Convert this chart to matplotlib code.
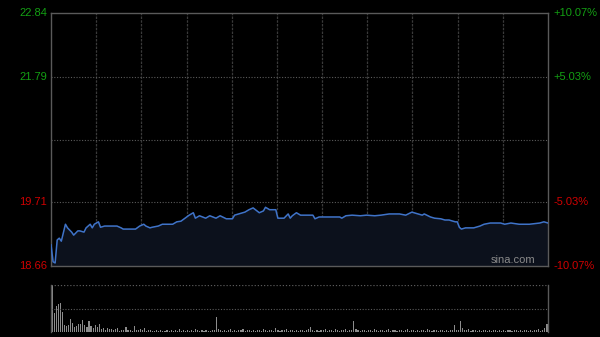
import matplotlib.pyplot as plt

# Intraday price (minute index, price)
minutes = [0, 1, 2, 3, 4, 5, 7, 8, 10, 11, 13, 14, 16, 17, 19, 20, 21, 23, 24, 26,
           32, 34, 35, 41, 43, 45, 46, 48, 49, 52, 54, 59, 61, 63, 65, 67, 69, 70, 72, 75,
           77, 80, 82, 85, 88, 89, 94, 96, 98, 101, 103, 104, 106, 109, 110, 113, 115, 116, 117, 119,
           121, 127, 128, 130, 140, 141, 143, 146, 150, 153, 157, 160, 164, 169, 172, 175, 178, 180, 181, 184,
           186, 189, 191, 193, 196, 197, 198, 199, 201, 205, 208, 210, 213, 218, 220, 223, 227, 232, 237, 239,
           241]
prices = [19.01, 18.73, 18.71, 19.09, 19.12, 19.07, 19.35, 19.29, 19.22, 19.17, 19.24, 19.24, 19.22, 19.29, 19.35, 19.29, 19.35, 19.39, 19.30, 19.32,
          19.32, 19.29, 19.27, 19.27, 19.32, 19.35, 19.32, 19.29, 19.30, 19.32, 19.35, 19.35, 19.39, 19.40, 19.45, 19.50, 19.54, 19.45, 19.49, 19.45,
          19.49, 19.45, 19.49, 19.44, 19.44, 19.50, 19.55, 19.59, 19.62, 19.54, 19.57, 19.63, 19.59, 19.59, 19.45, 19.45, 19.52, 19.45, 19.49, 19.54,
          19.50, 19.50, 19.44, 19.47, 19.47, 19.45, 19.49, 19.50, 19.49, 19.50, 19.49, 19.50, 19.52, 19.52, 19.50, 19.55, 19.52, 19.50, 19.52, 19.47,
          19.45, 19.44, 19.42, 19.42, 19.39, 19.39, 19.30, 19.27, 19.29, 19.29, 19.32, 19.35, 19.37, 19.37, 19.35, 19.37, 19.35, 19.35, 19.37, 19.39,
          19.37]

# Volume per minute (relative)
volume = [100, 40, 55, 60, 62, 42, 15, 12, 15, 28, 20, 10, 12, 16, 18, 25, 14, 10, 24, 12,
          8, 14, 10, 17, 6, 8, 5, 9, 6, 7, 5, 6, 9, 3, 5, 4, 11, 4, 5, 3,
          12, 5, 4, 7, 4, 8, 3, 5, 4, 3, 2, 4, 3, 5, 3, 2, 4, 3, 5, 2,
          4, 3, 6, 3, 4, 2, 5, 3, 4, 3, 7, 4, 3, 5, 3, 4, 2, 3, 4, 5,
          32, 6, 4, 3, 5, 3, 4, 6, 3, 4, 3, 5, 4, 7, 3, 4, 5, 3, 4, 3,
          5, 4, 3, 6, 4, 3, 5, 4, 3, 8, 4, 3, 5, 4, 6, 3, 4, 5, 3, 4,
          3, 5, 4, 3, 4, 6, 10, 5, 3, 4, 3, 5, 4, 6, 3, 4, 5, 3, 6, 4,
          3, 5, 4, 6, 3, 4, 5, 23, 6, 4, 3, 5, 4, 3, 5, 4, 3, 6, 4, 3,
          4, 5, 3, 4, 6, 3, 4, 5, 3, 4, 5, 3, 4, 6, 3, 4, 5, 3, 4, 3,
          5, 4, 3, 6, 4, 3, 5, 4, 3, 4, 5, 3, 4, 3, 5, 4, 14, 5, 4, 23,
          9, 5, 4, 6, 3, 4, 5, 3, 4, 3, 5, 4, 3, 4, 3, 4, 5, 3, 4, 3,
          4, 3, 5, 4, 3, 4, 5, 3, 4, 3, 5, 4, 3, 4, 3, 5, 4, 6, 3, 5,
          8, 16]

prev_close = 20.75
y_top, y_bot = 22.84, 18.66
left_labels = ['22.84', '21.79', '19.71', '18.66']
left_vals = [22.84, 21.79, 19.71, 18.66]
right_labels = ['+10.07%', '+5.03%', '-5.03%', '-10.07%']
label_colors = ['#13a013', '#13a013', '#d00000', '#d00000']

plt.rcParams['font.family'] = ['Liberation Sans', 'DejaVu Sans']

fig = plt.figure(figsize=(6, 3.37), dpi=100, facecolor='black')
ax = fig.add_axes([51 / 600, 1 - 266 / 337, 497 / 600, 253 / 337], facecolor='black')
axv = fig.add_axes([51 / 600, 1 - 332 / 337, 497 / 600, 47 / 337], facecolor='black')

# price panel
ax.set_xlim(0, 241)
ax.set_ylim(y_bot, y_top)
for k in range(1, 11):
    ax.axvline(241 * k / 11, color='#3a3a3a', lw=0.9, ls=(0, (2, 1)))
for v in [21.79, prev_close, 19.71]:
    ax.axhline(v, color='#5a5a5a', lw=0.8, ls=(0, (1, 1.5)))
ax.fill_between(minutes, prices, y_bot, color='#0c111c', zorder=2)
ax.plot(minutes, prices, color='#3f73c8', lw=1.1, zorder=3)
ax.set_xticks([])
ax.set_yticks([])
for s in ax.spines.values():
    s.set_color('#5a5a5a')
    s.set_linewidth(1)
for lab, v, c in zip(left_labels, left_vals, label_colors):
    ax.text(-4 / 497 * 241, v, lab, color=c, fontsize=8, ha='right', va='center')
for lab, v, c in zip(right_labels, left_vals, label_colors):
    ax.text(241 + 5 / 497 * 241, v, lab, color=c, fontsize=8, ha='left', va='center')
ax.text(0.975, 0.005, 'sina.com', transform=ax.transAxes, color='#8a8a8a',
        fontsize=8, ha='right', va='bottom', zorder=4)

# volume panel
axv.set_xlim(-0.5, 241.5)
axv.set_ylim(0, 100)
axv.bar(range(len(volume)), volume, width=0.55, color='#8c8c8c', zorder=2)
axv.axhline(50, color='#5a5a5a', lw=0.8, ls=(0, (1, 1.5)))
axv.axhline(100, color='#5a5a5a', lw=0.9, ls=(0, (1, 1.5)))
axv.set_xticks([])
axv.set_yticks([])
for name, s in axv.spines.items():
    s.set_color('#5a5a5a')
    s.set_linewidth(1)
axv.spines['top'].set_visible(False)
axv.spines['bottom'].set_visible(False)

fig.savefig('out.png', dpi=100, facecolor='black')
